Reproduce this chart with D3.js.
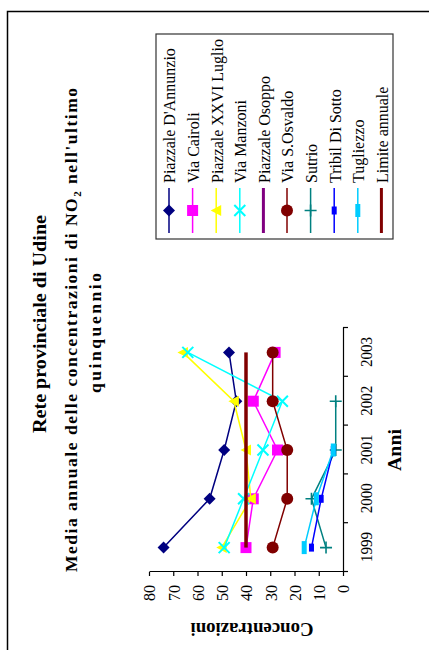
<!DOCTYPE html>
<html><head><meta charset="utf-8">
<script src="https://cdn.jsdelivr.net/npm/d3@7"></script>
<style>
html,body{margin:0;padding:0;background:#fff;}
svg{display:block;}
text{font-family:"Liberation Serif","Times New Roman",serif;fill:#000;}
</style></head>
<body>
<svg id="chart" width="429" height="650"></svg>
<script>
// ---- data ----
const years = ["1999","2000","2001","2002","2003"];
const valueTicks = [0,10,20,30,40,50,60,70,80];
const seriesNames = ["Piazzale D'Annunzio","Via Cairoli","Piazzale XXVI Luglio","Via Manzoni","Piazzale Osoppo","Via S.Osvaldo","Sutrio","Tribil Di Sotto","Tugliezzo","Limite annuale"];
const dAnnunzio   = [74, 55, 49, 44, 47];
const viaCairoli  = [40, 37, 27, 37, 28];
const xxviLuglio  = [50, 38, 40, 45, 66];
const viaManzoni  = [49, 41, 33, 25, 64];
const osoppo      = [null, null, null, null, null];
const sOsvaldo    = [29, 23, 23, 29, 29];
const sutrio      = [7, 13, 3, 3, null];
const tribil      = [13, 9, 4, null, null];
const tugliezzo   = [16, 11, 4, null, null];
const limite      = [40, 40, 40, 40, 40];
const seriesValues = [dAnnunzio, viaCairoli, xxviLuglio, viaManzoni, osoppo, sOsvaldo, sutrio, tribil, tugliezzo, limite];

// ---- styles ----
const colors  = ["#000080","#FF00FF","#FFFF00","#00FFFF","#800080","#800000","#008080","#0000FF","#00CCFF","#800000"];
const markers = ["diamond","square","triangle","x","none","circle","plus","shortbar","longbar","none"];
const widths  = [1.5,1.5,1.5,1.5,3,1.5,1.5,1.5,1.5,3.5];

const svg = d3.select("#chart");
// outer frame
svg.append("path").attr("d","M7.5,660V11.5H440").attr("fill","none").attr("stroke","#000").attr("stroke-width",1.5);

// whole chart drawn in its own orientation, then turned a quarter to the left
const g = svg.append("g").attr("transform","translate(0,650) rotate(-90)");

const x = d3.scalePoint().domain(years).range([78,322]).padding(0.5);
const xb = d3.scaleLinear().domain([0,years.length]).range([78,322]);
const y = d3.scaleLinear().domain([0,80]).range([343,149]);

// condensed text helper: render taller glyphs at a given width
function condense(sel, bigSize, smallSize){
  sel.each(function(){
    const t = d3.select(this);
    t.attr("font-size", smallSize);
    const w = this.getComputedTextLength();
    t.attr("font-size", bigSize).attr("textLength", w).attr("lengthAdjust","spacingAndGlyphs");
  });
}

// category axis
const xAxisG = g.append("g").attr("transform","translate(0,343)")
  .call(d3.axisBottom(xb).ticks(5).tickSize(5).tickSizeOuter(0).tickFormat(""));
xAxisG.select(".domain").attr("stroke","#000").attr("stroke-width",1.2);
xAxisG.selectAll(".tick line").attr("stroke","#000").attr("stroke-width",1.2);
const xLab = g.append("g").attr("transform","translate(0,343)")
  .call(d3.axisBottom(x).tickSize(0).tickPadding(0));
xLab.select(".domain").remove();
xLab.attr("font-family",null); xAxisG.attr("font-family",null);
xLab.selectAll(".tick text").attr("y",29).attr("dy",0).attr("font-size",17.5)
  .attr("textLength",30).attr("lengthAdjust","spacingAndGlyphs");

// value axis
const yAxisG = g.append("g").attr("transform","translate(78,0)")
  .call(d3.axisLeft(y).tickValues(valueTicks).tickSize(4).tickSizeOuter(0).tickPadding(9));
yAxisG.attr("font-family",null);
yAxisG.select(".domain").attr("stroke","#000").attr("stroke-width",1.2);
yAxisG.selectAll(".tick line").attr("stroke","#000").attr("stroke-width",1.2);
yAxisG.selectAll(".tick text").attr("dy","0.34em");
condense(yAxisG.selectAll(".tick text"), 17, 16);

// axis titles
g.append("text").attr("transform","translate(27,252) rotate(-90)").attr("text-anchor","middle")
  .attr("font-weight","bold").attr("font-size",19).attr("textLength",123).attr("lengthAdjust","spacingAndGlyphs")
  .text("Concentrazioni");
g.append("text").attr("x",200).attr("y",401).attr("text-anchor","middle")
  .attr("font-weight","bold").attr("font-size",19).attr("textLength",42).attr("lengthAdjust","spacingAndGlyphs")
  .text("Anni");

// titles
g.append("text").attr("x",326).attr("y",46).attr("text-anchor","middle")
  .attr("font-weight","bold").attr("font-size",19).attr("textLength",218).attr("lengthAdjust","spacingAndGlyphs")
  .text("Rete provinciale di Udine");
const sub = g.append("text").attr("x",320).attr("y",77).attr("text-anchor","middle")
  .attr("font-weight","bold").attr("font-size",17.5).attr("textLength",484).attr("lengthAdjust","spacing");
sub.append("tspan").text("Media annuale delle concentrazioni di NO");
sub.append("tspan").attr("font-size",11).attr("dy",4).text("2");
sub.append("tspan").attr("dy",-4).text(" nell'ultimo");
g.append("text").attr("x",317).attr("y",101).attr("text-anchor","middle")
  .attr("font-weight","bold").attr("font-size",17.5).attr("textLength",120).attr("lengthAdjust","spacing")
  .text("quinquennio");

// marker drawing
function drawMarker(sel, type, color){
  switch(type){
    case "diamond": sel.append("path").attr("d","M0,-6L6,0L0,6L-6,0Z").attr("fill",color); break;
    case "square": sel.append("rect").attr("x",-5.5).attr("y",-5.5).attr("width",11).attr("height",11).attr("fill",color); break;
    case "triangle": sel.append("path").attr("d","M0,-5.5L5.5,5L-5.5,5Z").attr("fill",color); break;
    case "x": sel.append("path").attr("d","M-5.5,-5.5L5.5,5.5M-5.5,5.5L5.5,-5.5").attr("stroke",color).attr("stroke-width",2).attr("fill","none"); break;
    case "circle": sel.append("circle").attr("r",6).attr("fill",color); break;
    case "plus": sel.append("path").attr("d","M-6,0H6M0,-6V6").attr("stroke",color).attr("stroke-width",1.6).attr("fill","none"); break;
    case "shortbar": sel.append("rect").attr("x",-4).attr("y",-2.5).attr("width",8).attr("height",5).attr("fill",color); break;
    case "longbar": sel.append("rect").attr("x",-6.5).attr("y",-2.5).attr("width",13).attr("height",5).attr("fill",color); break;
  }
}

// series
const line = d3.line().defined(d => d.v != null).x(d => x(d.year)).y(d => y(d.v));
seriesNames.forEach((name, i) => {
  const pts = years.map((yr, j) => ({year: yr, v: seriesValues[i][j]}));
  const sg = g.append("g").attr("class","series");
  sg.append("path").attr("d", line(pts)).attr("fill","none")
    .attr("stroke", colors[i]).attr("stroke-width", widths[i]);
  pts.filter(d => d.v != null).forEach(d => {
    const m = sg.append("g").attr("transform",`translate(${x(d.year)},${y(d.v)})`);
    drawMarker(m, markers[i], colors[i]);
  });
});

// legend
const lg = g.append("g");
lg.append("rect").attr("x",411).attr("y",156).attr("width",205).attr("height",237)
  .attr("fill","#fff").attr("stroke","#333").attr("stroke-width",1.2);
seriesNames.forEach((name, i) => {
  const yy = 169 + 23.6*i;
  lg.append("line").attr("x1",417).attr("x2",462).attr("y1",yy).attr("y2",yy)
    .attr("stroke",colors[i]).attr("stroke-width",widths[i] > 2 ? 3 : 1.5);
  const m = lg.append("g").attr("transform",`translate(439.5,${yy})`);
  drawMarker(m, markers[i], colors[i]);
  const t = lg.append("text").attr("x",467).attr("y",yy).attr("dy","0.36em").text(name);
  condense(t, 17.5, 16);
});
</script>
</body></html>
